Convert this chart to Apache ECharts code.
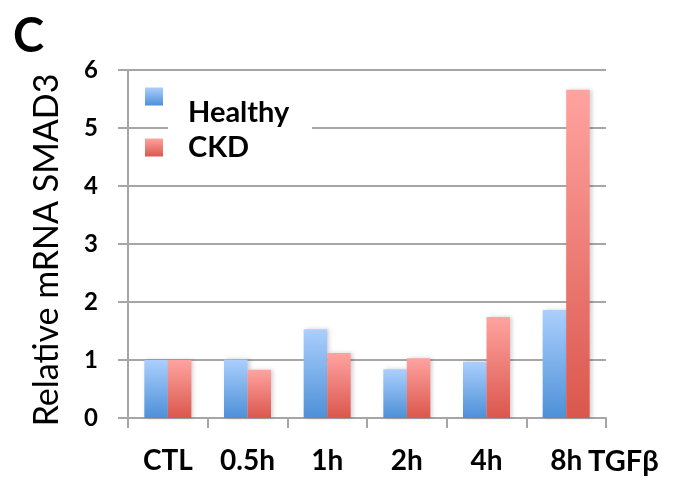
<!DOCTYPE html>
<html>
<head>
<meta charset="utf-8">
<script src="https://cdn.jsdelivr.net/npm/echarts@6/dist/echarts.min.js"></script>
<style>html,body{margin:0;padding:0;background:#fff}#c{width:674px;height:484px}</style>
</head>
<body>
<div id="c"></div>
<script>
var categories = ['CTL', '0.5h', '1h', '2h', '4h', '8h'];
var healthy = [1.00, 1.01, 1.53, 0.84, 0.97, 1.86];
var ckd = [1.00, 0.83, 1.12, 1.03, 1.74, 5.66];
var yTicks = [0, 1, 2, 3, 4, 5, 6];
var seriesNames = ['Healthy', 'CKD'];

var FONT = 'Lato';
function grad(top, bottom) {
  return new echarts.graphic.LinearGradient(0, 0, 0, 1, [
    { offset: 0, color: top }, { offset: 1, color: bottom }
  ]);
}
var blue = grad('#abcffd', '#4d90d8');
var red = grad('#ffa3a0', '#da574d');
var gridGray = '#a6a6a6';

var chart = echarts.init(document.getElementById('c'), null, { renderer: 'canvas' });
chart.setOption({
  animation: false,
  backgroundColor: '#fff',
  title: {
    text: 'C', left: 8, top: 8,
    textStyle: { fontFamily: FONT, fontWeight: 'bold', fontSize: 47, color: '#000' }
  },
  grid: { left: 128, right: 68, top: 70, bottom: 66, containLabel: false },
  legend: [{
    data: [seriesNames[0]],
    orient: 'vertical', left: 145, top: 66, padding: 0,
    itemWidth: 18, itemHeight: 18, itemGap: 0,
    icon: 'rect',
    formatter: function (n) { return '{a|' + n + '}'; },
    textStyle: {
      rich: { a: { fontFamily: FONT, fontWeight: 'bold', fontSize: 29, color: '#000', lineHeight: 28, padding: [32, 0, 0, 20] } }
    }
  }, {
    data: [seriesNames[1]],
    orient: 'vertical', left: 145, top: 133, padding: 0,
    itemWidth: 18, itemHeight: 18,
    icon: 'rect',
    formatter: function (n) { return '{a|' + n + '}'; },
    textStyle: {
      rich: { a: { fontFamily: FONT, fontWeight: 'bold', fontSize: 29, color: '#000', lineHeight: 28, padding: [0, 0, 0, 20] } }
    }
  }],
  graphic: [{
    type: 'rect', z: 1,
    shape: { x: 168, y: 98, width: 144, height: 36 },
    style: { fill: '#fff' }
  }],
  xAxis: {
    type: 'category',
    data: categories,
    name: 'TGFβ',
    nameLocation: 'end',
    nameGap: -22,
    nameTextStyle: { fontFamily: FONT, fontWeight: 'bold', fontSize: 29, color: '#000', align: 'left', verticalAlign: 'top', padding: [29, 0, 0, 0] },
    axisLine: { lineStyle: { color: gridGray, width: 2 } },
    axisTick: { show: true, length: 10, lineStyle: { color: gridGray, width: 2 } },
    axisLabel: { margin: 29, fontFamily: FONT, fontWeight: 'bold', fontSize: 28, color: '#000' }
  },
  yAxis: {
    type: 'value',
    min: 0, max: 6, interval: 1,
    name: 'Relative mRNA SMAD3',
    nameLocation: 'middle',
    nameGap: 64,
    nameTextStyle: { fontFamily: FONT, fontSize: 34, color: '#000', padding: [0, 12, 0, 0] },
    axisLine: { show: true, lineStyle: { color: gridGray, width: 2 } },
    axisTick: { show: true, length: 10, lineStyle: { color: gridGray, width: 2 } },
    axisLabel: {
      margin: 30, fontFamily: FONT, fontWeight: 'bold', fontSize: 24, color: '#000',
      formatter: function (v) { return yTicks.indexOf(v) >= 0 ? String(v) : ''; }
    },
    splitLine: { show: true, lineStyle: { color: gridGray, width: 2 } }
  },
  series: [{
    name: seriesNames[0], type: 'bar', data: healthy,
    barGap: '0%', barCategoryGap: '41%',
    itemStyle: { color: blue, shadowBlur: 4, shadowOffsetX: 2, shadowColor: 'rgba(0,0,0,0.18)' }
  }, {
    name: seriesNames[1], type: 'bar', data: ckd,
    barGap: '0%', barCategoryGap: '41%',
    itemStyle: { color: red, shadowBlur: 4, shadowOffsetX: 2, shadowColor: 'rgba(0,0,0,0.18)' }
  }]
});
</script>
</body>
</html>
